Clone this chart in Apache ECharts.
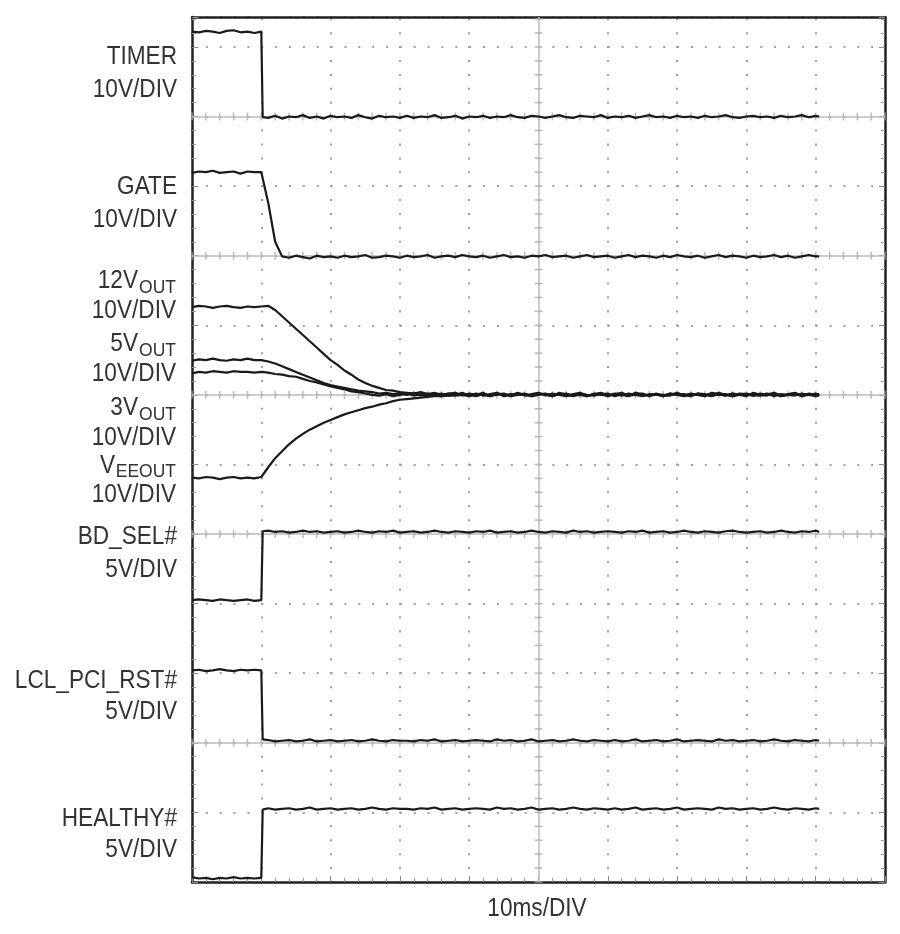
<!DOCTYPE html>
<html>
<head>
<meta charset="utf-8">
<script src="https://cdn.jsdelivr.net/npm/echarts@6/dist/echarts.min.js"></script>
<style>
html,body{margin:0;padding:0;background:#fff;}
#chart{width:900px;height:934px;}
</style>
</head>
<body>
<div id="chart"></div>
<script>
// Time axis in divisions (10ms/DIV)
const T = [0,0.1,0.2,0.3,0.4,0.5,0.6,0.7,0.8,0.9,1.0, 1.02,1.02,
  1.1,1.2,1.3,1.4,1.5,1.6,1.7,1.8,1.9,2.0,
  2.1,2.2,2.3,2.4,2.5,2.6,2.7,2.8,2.9,3.0,
  3.1,3.2,3.3,3.4,3.5,3.6,3.7,3.8,3.9,4.0,
  4.1,4.2,4.3,4.4,4.5,4.6,4.7,4.8,4.9,5.0,
  5.1,5.2,5.3,5.4,5.5,5.6,5.7,5.8,5.9,6.0,
  6.1,6.2,6.3,6.4,6.5,6.6,6.7,6.8,6.9,7.0,
  7.1,7.2,7.3,7.4,7.5,7.6,7.7,7.8,7.9,8.0,
  8.1,8.2,8.3,8.4,8.5,8.6,8.7,8.8,8.9,9.0,
  9.05];

// Trace values, in screen divisions from the bottom of the graticule
const timer = [12.22,12.21,12.23,12.22,12.20,12.23,12.24,12.21,12.22,12.20,12.22, 12.22,10.99,
  10.98,11.01,10.97,11.00,10.99,11.02,10.98,11.00,10.97,11.01,
  10.99,11.00,10.98,11.02,10.99,10.97,11.01,10.99,11.00,10.98,
  11.01,10.98,11.00,10.99,11.02,10.98,10.99,11.01,10.97,11.00,
  10.99,11.01,10.98,11.00,10.99,11.02,10.99,10.98,11.01,11.00,
  10.98,11.00,11.02,10.99,10.98,11.01,11.00,10.99,11.02,10.98,
  11.00,10.99,11.01,10.98,11.00,11.02,10.99,11.00,10.98,11.01,
  10.99,11.00,10.98,11.01,10.99,11.00,11.02,10.99,10.98,11.00,
  11.01,10.99,11.00,10.98,11.01,10.99,11.00,11.02,10.99,11.01,
  11.00];

const gate = [10.19,10.21,10.20,10.22,10.19,10.20,10.21,10.18,10.21,10.20,10.20, 10.20,10.20,
  9.76,9.20,8.99,8.97,9.00,8.98,8.96,9.00,8.98,8.99,
  8.97,9.00,8.98,8.99,9.01,8.97,8.98,9.00,8.99,8.97,
  9.00,8.98,8.99,9.01,8.97,8.99,9.00,8.98,9.01,8.99,
  8.98,9.00,8.97,8.99,9.01,8.98,8.99,8.97,9.00,8.99,
  9.01,8.98,8.99,9.00,8.97,8.99,9.01,8.98,8.99,9.00,
  8.97,8.99,9.01,8.98,9.00,8.99,8.97,9.00,8.98,9.01,
  8.99,8.98,9.00,8.97,8.99,9.01,8.98,9.00,8.99,8.97,
  9.00,8.98,8.99,9.01,8.98,9.00,8.97,8.99,9.01,8.99,
  8.99];

const v12out = [8.26,8.28,8.27,8.25,8.27,8.28,8.26,8.25,8.27,8.26,8.27, 8.27,8.27,
  8.28,8.22,8.13,8.04,7.95,7.86,7.77,7.68,7.59,7.50,
  7.43,7.35,7.29,7.22,7.17,7.13,7.10,7.07,7.06,7.04,
  7.03,7.02,7.04,7.01,7.03,7.00,7.02,7.03,6.99,7.02,
  7.00,7.03,6.98,7.02,7.01,6.99,7.03,7.00,6.98,7.02,
  7.01,6.98,7.03,7.00,6.99,7.02,6.98,7.01,7.03,6.99,
  7.02,7.00,6.98,7.03,7.01,6.99,7.02,6.98,7.00,7.03,
  6.99,7.02,7.00,6.98,7.03,7.01,6.99,7.02,7.00,6.98,
  7.03,7.00,6.99,7.02,6.98,7.01,7.03,6.99,7.00,7.02,
  7.00];

const v5out = [7.49,7.51,7.50,7.52,7.50,7.49,7.51,7.50,7.52,7.50,7.50, 7.50,7.50,
  7.48,7.45,7.41,7.37,7.33,7.29,7.25,7.21,7.17,7.14,
  7.12,7.10,7.08,7.06,7.05,7.04,7.02,7.03,7.01,7.02,
  7.00,7.03,6.99,7.02,7.00,6.98,7.02,7.00,7.03,6.99,
  7.02,6.99,7.01,7.03,6.98,7.00,7.02,6.99,7.01,7.03,
  6.99,7.02,7.00,6.98,7.01,7.03,6.99,7.00,7.02,6.98,
  7.01,7.03,6.99,7.00,7.02,6.98,7.01,7.00,6.99,7.02,
  7.00,6.98,7.02,7.01,6.99,7.03,7.00,6.98,7.02,7.01,
  6.99,7.02,7.00,7.03,6.99,7.00,7.02,6.98,7.01,7.00,
  7.01];

const v3out = [7.31,7.33,7.32,7.34,7.33,7.32,7.34,7.33,7.33,7.32,7.33, 7.33,7.33,
  7.32,7.30,7.29,7.27,7.26,7.23,7.20,7.18,7.15,7.12,
  7.10,7.08,7.05,7.04,7.02,7.00,6.99,7.01,6.98,7.00,
  7.02,6.99,7.01,6.98,7.00,7.02,6.99,7.01,7.00,6.98,
  7.01,7.00,6.98,7.02,6.99,7.01,7.00,7.02,6.98,7.00,
  7.02,6.99,7.01,7.00,6.98,7.02,7.00,6.99,7.01,7.02,
  6.98,7.01,7.00,7.02,6.99,7.00,7.01,6.98,7.02,7.00,
  7.01,6.99,7.02,7.00,6.98,7.01,6.99,7.02,7.00,7.01,
  6.99,7.00,7.02,6.98,7.01,7.00,6.99,7.02,7.00,6.98,
  7.00];

const veeout = [5.81,5.80,5.82,5.81,5.79,5.81,5.82,5.80,5.81,5.80,5.82, 5.81,5.84,
  5.96,6.09,6.19,6.29,6.37,6.44,6.50,6.55,6.60,6.64,
  6.68,6.72,6.75,6.78,6.81,6.83,6.86,6.88,6.91,6.93,
  6.94,6.95,6.96,6.97,6.98,6.98,6.99,6.99,7.00,7.00,
  6.98,7.01,6.99,7.00,7.02,6.98,7.00,7.01,6.99,7.02,
  7.00,6.98,7.01,7.02,6.99,7.00,6.98,7.02,7.00,6.99,
  7.01,6.99,7.02,7.00,6.98,7.01,7.00,6.99,7.02,7.00,
  6.98,7.01,7.00,6.99,7.02,7.00,7.01,6.98,7.00,7.02,
  7.00,6.99,7.01,7.02,6.98,7.00,7.01,6.99,7.02,7.00,
  6.99];

const bdSel = [4.05,4.06,4.05,4.04,4.06,4.05,4.04,4.05,4.06,4.04,4.05, 4.05,5.04,
  5.05,5.03,5.04,5.02,5.03,5.05,5.03,5.04,5.02,5.03,
  5.04,5.02,5.03,5.05,5.03,5.02,5.04,5.03,5.05,5.02,
  5.03,5.04,5.02,5.03,5.05,5.03,5.02,5.04,5.03,5.02,
  5.04,5.03,5.05,5.02,5.03,5.04,5.02,5.03,5.05,5.03,
  5.02,5.04,5.03,5.02,5.05,5.03,5.04,5.02,5.03,5.04,
  5.03,5.02,5.04,5.03,5.05,5.02,5.03,5.04,5.02,5.03,
  5.05,5.03,5.02,5.04,5.03,5.02,5.04,5.05,5.03,5.02,
  5.03,5.04,5.02,5.03,5.05,5.03,5.02,5.04,5.03,5.05,
  5.03];

const lclPciRst = [3.04,3.05,3.03,3.04,3.06,3.04,3.03,3.05,3.04,3.05,3.04, 3.04,2.05,
  2.04,2.02,2.03,2.04,2.02,2.03,2.05,2.02,2.03,2.04,
  2.02,2.03,2.04,2.02,2.03,2.05,2.03,2.02,2.04,2.03,
  2.03,2.02,2.04,2.03,2.05,2.02,2.03,2.04,2.02,2.03,
  2.04,2.03,2.02,2.05,2.03,2.04,2.02,2.03,2.05,2.02,
  2.03,2.04,2.02,2.03,2.05,2.03,2.02,2.04,2.03,2.02,
  2.04,2.02,2.03,2.05,2.02,2.03,2.04,2.02,2.03,2.05,
  2.02,2.03,2.04,2.03,2.02,2.05,2.03,2.04,2.02,2.03,
  2.04,2.02,2.03,2.05,2.03,2.02,2.04,2.03,2.02,2.04,
  2.03];

const healthy = [0.07,0.05,0.06,0.04,0.06,0.05,0.07,0.05,0.06,0.05,0.06, 0.06,1.04,
  1.06,1.04,1.05,1.06,1.04,1.05,1.07,1.04,1.05,1.06,
  1.04,1.05,1.06,1.04,1.05,1.07,1.05,1.04,1.06,1.05,
  1.05,1.04,1.06,1.05,1.07,1.04,1.05,1.06,1.04,1.05,
  1.06,1.05,1.04,1.07,1.05,1.06,1.04,1.05,1.07,1.04,
  1.05,1.06,1.04,1.05,1.07,1.05,1.04,1.06,1.05,1.04,
  1.06,1.04,1.05,1.07,1.04,1.05,1.06,1.04,1.05,1.07,
  1.04,1.05,1.06,1.05,1.04,1.07,1.05,1.06,1.04,1.05,
  1.06,1.04,1.05,1.07,1.05,1.04,1.06,1.05,1.04,1.06,
  1.05];

// Graticule reference lines (divisions)
const refLevels = [2, 5, 7, 9, 11];
const centerTime = 5;

// Text
const channelLabels = ['TIMER','10V/DIV','GATE','10V/DIV','BD_SEL#','5V/DIV','LCL_PCI_RST#','5V/DIV','HEALTHY#','5V/DIV'];
const analogMain = ['12V','10V/DIV','5V','10V/DIV','3V','10V/DIV','V','10V/DIV'];
const analogSub = ['OUT','OUT','OUT','EEOUT'];
const timeLabel = '10ms/DIV';

// ---------------- layout ----------------
const traces = [timer, gate, v12out, v5out, v3out, veeout, bdSel, lclPciRst, healthy];
const FONT = '"Liberation Sans", Arial, sans-serif';
const TXT = '#333';

function txt(text, x, y, size, sx, align) {
  return {
    type: 'text', x: x, y: y, scaleX: sx, z: 20,
    style: {
      text: text, font: size + 'px ' + FONT, fill: TXT,
      align: align || 'right', verticalAlign: 'middle',
      textAlign: align || 'right', textVerticalAlign: 'middle'
    }
  };
}

const chLabelY = [57, 90, 187, 220, 537, 570, 681, 712, 819, 850];
const analogMainPos = [[138,281],[176,311],[138,344],[176,374],[138,408],[176,438],[115,466],[176,495]];
const analogSubY = [288, 351, 415, 472];

const graphics = [];
channelLabels.forEach((s, i) => graphics.push(txt(s, 177, chLabelY[i], 26, 0.87)));
analogMain.forEach((s, i) => graphics.push(txt(s, analogMainPos[i][0], analogMainPos[i][1], 26, 0.87)));
analogSub.forEach((s, i) => graphics.push(txt(s, 176, analogSubY[i], 19, 0.92)));
graphics.push(txt(timeLabel, 537, 909, 26, 0.87, 'center'));

// tick marks on reference lines
const hTicks = [];
refLevels.forEach(L => { for (let k = 0; k <= 50; k++) hTicks.push([k / 5, L]); });
const vTicks = [];
for (let j = 0; j <= 62; j++) vTicks.push([centerTime, j / 5]);

const series = [
  {
    type: 'scatter', data: hTicks, symbol: 'rect', symbolSize: [1.5, 8], silent: true, z: 1,
    itemStyle: { color: '#aaa' }, animation: false,
    markLine: {
      silent: true, symbol: 'none', label: { show: false }, animation: false,
      lineStyle: { color: '#bbb', width: 1.5, type: 'solid' },
      data: refLevels.map(v => ({ yAxis: v })).concat([{ xAxis: centerTime }])
    }
  },
  {
    type: 'scatter', data: vTicks, symbol: 'rect', symbolSize: [8, 1.5], silent: true, z: 1,
    itemStyle: { color: '#aaa' }, animation: false
  }
];
traces.forEach(arr => {
  series.push({
    type: 'line', data: T.map((t, i) => [t, arr[i]]), showSymbol: false, symbol: 'none',
    lineStyle: { color: '#1a1a1a', width: 2.2 }, z: 5, silent: true, animation: false
  });
});

const border = { show: true, onZero: false, lineStyle: { color: '#222', width: 2.5 } };
const chart = echarts.init(document.getElementById('chart'));
chart.setOption({
  backgroundColor: '#fff',
  animation: false,
  grid: { left: 192, top: 17, width: 693, height: 865, show: false },
  xAxis: [{
    type: 'value', min: 0, max: 10, interval: 1, position: 'bottom',
    axisLine: border, axisLabel: { show: false },
    axisTick: { show: true, inside: true, length: 6, lineStyle: { color: '#888' } },
    minorTick: { show: true, splitNumber: 5, length: 4, lineStyle: { color: '#999' } },
    splitLine: { show: true, lineStyle: { color: '#a0a0a0', width: 2, type: [2, 11.916], dashOffset: 12.7 } }
  }, {
    type: 'value', min: 0, max: 10, interval: 1, position: 'top',
    axisLine: border, axisLabel: { show: false }, axisTick: { show: false }, splitLine: { show: false }
  }],
  yAxis: [{
    type: 'value', min: 0, max: 12.43, interval: 1, position: 'left',
    axisLine: border, axisLabel: { show: false },
    axisTick: { show: true, inside: true, length: 6, lineStyle: { color: '#888' } },
    minorTick: { show: true, splitNumber: 5, length: 4, lineStyle: { color: '#999' } },
    splitLine: { show: true, lineStyle: { color: '#a0a0a0', width: 2, type: [2, 11.86] } }
  }, {
    type: 'value', min: 0, max: 12.43, interval: 1, position: 'right',
    axisLine: border, axisLabel: { show: false },
    axisTick: { show: true, inside: true, length: 6, lineStyle: { color: '#888' } },
    minorTick: { show: true, splitNumber: 5, length: 4, lineStyle: { color: '#999' } },
    splitLine: { show: false }
  }],
  graphic: graphics,
  series: series
});
</script>
</body>
</html>
